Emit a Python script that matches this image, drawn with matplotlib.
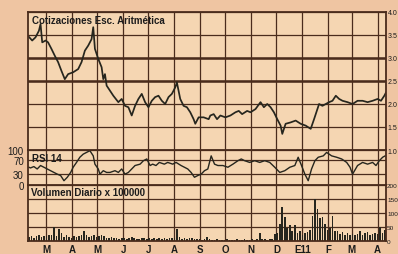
import matplotlib
matplotlib.use('Agg')
import matplotlib.pyplot as plt
import pandas as pd

# --- data ---
price_dates = [
    '2010-02-08', '2010-02-12', '2010-02-16', '2010-02-20', '2010-02-22', '2010-02-24', '2010-02-28',
    '2010-03-03', '2010-03-07', '2010-03-11', '2010-03-15', '2010-03-19', '2010-03-23', '2010-03-27',
    '2010-04-02', '2010-04-08', '2010-04-12', '2010-04-16', '2010-04-20', '2010-04-24', '2010-04-26',
    '2010-04-28', '2010-05-02', '2010-05-06', '2010-05-08', '2010-05-10', '2010-05-12', '2010-05-16',
    '2010-05-20', '2010-05-26', '2010-05-30', '2010-06-03', '2010-06-07', '2010-06-11', '2010-06-15',
    '2010-06-19', '2010-06-23', '2010-06-27', '2010-07-01', '2010-07-05', '2010-07-09', '2010-07-13',
    '2010-07-17', '2010-07-21', '2010-07-25', '2010-07-29', '2010-08-02', '2010-08-04', '2010-08-08',
    '2010-08-12', '2010-08-16', '2010-08-20', '2010-08-24', '2010-08-26', '2010-08-30', '2010-09-05',
    '2010-09-11', '2010-09-13', '2010-09-17', '2010-09-21', '2010-09-25', '2010-10-01', '2010-10-07',
    '2010-10-13', '2010-10-17', '2010-10-21', '2010-10-27', '2010-10-31', '2010-11-06', '2010-11-12',
    '2010-11-16', '2010-11-20', '2010-11-24', '2010-11-28', '2010-12-02', '2010-12-06', '2010-12-08',
    '2010-12-12', '2010-12-18', '2010-12-24', '2010-12-30', '2011-01-05', '2011-01-11', '2011-01-15',
    '2011-01-19', '2011-01-21', '2011-01-25', '2011-01-29', '2011-02-02', '2011-02-06', '2011-02-10',
    '2011-02-14', '2011-02-18', '2011-02-24', '2011-03-02', '2011-03-08', '2011-03-14', '2011-03-20',
    '2011-03-26', '2011-04-01', '2011-04-05', '2011-04-09', '2011-04-11',
]
price = [
    3.46, 3.38, 3.45, 3.59, 3.74, 3.34, 3.38,
    3.34, 3.20, 3.05, 2.91, 2.72, 2.54, 2.65,
    2.69, 2.76, 2.91, 3.16, 3.27, 3.41, 3.67,
    3.20, 2.98, 2.80, 2.54, 2.65, 2.40, 2.29,
    2.18, 2.04, 2.11, 1.96, 1.93, 1.75, 1.96,
    2.11, 2.22, 2.04, 1.93, 2.07, 2.15, 2.18,
    2.07, 2.00, 2.15, 2.22, 2.36, 2.47, 2.11,
    1.96, 1.93, 1.82, 1.67, 1.57, 1.71, 1.71,
    1.67, 1.75, 1.78, 1.67, 1.75, 1.71, 1.75,
    1.82, 1.85, 1.78, 1.85, 1.82, 1.89, 2.04,
    1.93, 2.00, 1.93, 1.82, 1.67, 1.53, 1.35,
    1.57, 1.60, 1.64, 1.57, 1.53, 1.46, 1.67,
    1.89, 2.00, 1.96, 2.00, 2.04, 2.07, 2.18,
    2.11, 2.07, 2.04, 2.00, 2.07, 2.07, 2.04,
    2.07, 2.11, 2.07, 2.18, 2.25,
]

rsi_dates = [
    '2010-02-08', '2010-02-10', '2010-02-14', '2010-02-18', '2010-02-22', '2010-02-26', '2010-03-02',
    '2010-03-06', '2010-03-10', '2010-03-14', '2010-03-18', '2010-03-22', '2010-03-26', '2010-03-30',
    '2010-04-02', '2010-04-06', '2010-04-10', '2010-04-14', '2010-04-18', '2010-04-22', '2010-04-26',
    '2010-04-28', '2010-05-02', '2010-05-04', '2010-05-08', '2010-05-12', '2010-05-16', '2010-05-22',
    '2010-05-26', '2010-05-30', '2010-06-03', '2010-06-07', '2010-06-11', '2010-06-15', '2010-06-21',
    '2010-06-25', '2010-06-29', '2010-07-03', '2010-07-06', '2010-07-10', '2010-07-14', '2010-07-20',
    '2010-07-24', '2010-07-30', '2010-08-03', '2010-08-09', '2010-08-13', '2010-08-17', '2010-08-21',
    '2010-08-25', '2010-08-29', '2010-09-02', '2010-09-06', '2010-09-10', '2010-09-14', '2010-09-18',
    '2010-09-22', '2010-09-28', '2010-10-04', '2010-10-10', '2010-10-16', '2010-10-20', '2010-10-24',
    '2010-10-30', '2010-11-05', '2010-11-11', '2010-11-17', '2010-11-23', '2010-11-29', '2010-12-05',
    '2010-12-11', '2010-12-17', '2010-12-23', '2010-12-27', '2010-12-31', '2011-01-04', '2011-01-08',
    '2011-01-12', '2011-01-16', '2011-01-20', '2011-01-26', '2011-01-30', '2011-02-05', '2011-02-11',
    '2011-02-17', '2011-02-23', '2011-02-27', '2011-03-02', '2011-03-08', '2011-03-14', '2011-03-20',
    '2011-03-26', '2011-03-30', '2011-04-03', '2011-04-07', '2011-04-10',
]
rsi = [
    50, 48, 52, 45, 55, 50, 45,
    40, 35, 30, 26, 11, 21, 35,
    50, 64, 79, 88, 93, 98, 83,
    59, 45, 30, 40, 35, 35, 40,
    35, 45, 30, 35, 45, 55, 59,
    69, 74, 55, 59, 55, 64, 59,
    64, 59, 64, 55, 50, 45, 35,
    21, 26, 30, 40, 45, 83, 59,
    55, 55, 50, 59, 69, 74, 69,
    64, 69, 64, 69, 64, 50, 35,
    40, 50, 55, 79, 55, 30, 11,
    45, 69, 79, 83, 93, 83, 79,
    74, 64, 50, 30, 55, 64, 59,
    64, 55, 69, 79, 83,
]

# daily volume (x 100000), one reading every 3 days from 2010-02-08
vol_start = '2010-02-08'
volume = [
    14, 18, 12, 16, 20, 15, 18,
    16, 20, 22, 48, 18, 42, 30, 15, 20, 14,
    12, 16, 14, 18, 22, 36, 20, 15, 18, 22,
    14, 16, 20, 18, 12, 10, 14, 9, 11, 8,
    10, 12, 8, 9, 14, 10, 8, 7, 9, 10,
    8, 10, 7, 9, 8, 11, 7, 9, 8, 10,
    9, 12, 42, 14, 8, 10, 7, 9, 12, 8,
    7, 6, 5, 7, 14, 6, 5, 4, 6, 5,
    5, 4, 6, 5, 4, 5, 6, 4, 5, 6,
    5, 4, 6, 5, 7, 30, 6, 8, 5, 6,
    8, 24, 30, 60, 120, 86, 45, 55, 35, 55, 28, 37,
    22, 30, 32, 40, 90, 150, 114, 82, 86, 61, 40,
    45, 90, 35, 37, 25, 32, 22, 28, 20,
    25, 22, 24, 35, 20, 28, 32, 22, 26, 30,
    24, 50, 30, 40,
]

month_labels = ['M', 'A', 'M', 'J', 'J', 'A', 'S', 'O', 'N', 'D', 'E11', 'F', 'M', 'A']
price_ticks = [4.0, 3.5, 3.0, 2.5, 2.0, 1.5, 1.0]
rsi_ticks = [100, 70, 30, 0]
vol_ticks = [200, 150, 100, 50, 0]

# --- style ---
bg_out = '#efc5a2'
bg_in = '#f5d6b2'
grid_c = '#4a2c1c'
ink = '#26261e'
txt = '#1c1c1c'
plt.rcParams['font.family'] = ['Liberation Sans', 'DejaVu Sans']

price_x = pd.to_datetime(price_dates)
rsi_x = pd.to_datetime(rsi_dates)
vol_x = pd.date_range(vol_start, periods=len(volume), freq='3D')
month_starts = pd.date_range('2010-03-01', '2011-04-01', freq='MS')
x0, x1 = pd.Timestamp('2010-02-07'), pd.Timestamp('2011-04-11')

fig = plt.figure(figsize=(3.98, 2.55), dpi=100, facecolor=bg_out)
L, W = 28 / 398, 358 / 398
ax_p = fig.add_axes([L, 104 / 255, W, 138 / 255])
ax_r = fig.add_axes([L, 69.5 / 255, W, 34.5 / 255])
ax_v = fig.add_axes([L, 13 / 255, W, 56.5 / 255])

for ax in (ax_p, ax_r, ax_v):
    ax.set_facecolor(bg_in)
    ax.set_xlim(x0, x1)
    ax.set_xticks(month_starts)
    ax.xaxis.grid(True, color=grid_c, lw=0.9)
    ax.yaxis.grid(True, color=grid_c, lw=0.9)
    ax.set_axisbelow(True)
    for s in ax.spines.values():
        s.set_color(grid_c)
        s.set_linewidth(1.3)
    ax.tick_params(length=0, labelsize=7, colors=txt, pad=3)

# price panel
ax_p.plot(price_x, price, color=ink, lw=1.25)
ax_p.set_ylim(1.0, 4.0)
ax_p.set_yticks(price_ticks)
ax_p.set_yticklabels(['%.1f' % t for t in price_ticks])
ax_p.yaxis.tick_right()
ax_p.tick_params(axis='y', labelsize=5, pad=1)
ax_p.axhline(3.0, color=grid_c, lw=1.8, zorder=0.5)
ax_p.axhline(2.5, color=grid_c, lw=1.8, zorder=0.5)
ax_p.set_xticklabels([])
ax_p.spines['bottom'].set_visible(False)
ax_p.text(0.01, 0.975, 'Cotizaciones Esc. Aritmética', transform=ax_p.transAxes,
          fontsize=7, fontweight='bold', color=txt, va='top', ha='left')

# RSI panel
ax_r.plot(rsi_x, rsi, color=ink, lw=1.0)
ax_r.set_ylim(0, 100)
ax_r.set_yticks(rsi_ticks)
ax_r.set_yticklabels([str(t) for t in rsi_ticks])
ax_r.set_xticklabels([])
ax_r.text(0.012, 0.9, 'RSI 14', transform=ax_r.transAxes,
          fontsize=7, fontweight='bold', color=txt, va='top', ha='left')

# volume panel
ax_v.bar(vol_x, volume, width=2.0, color=ink, linewidth=0)
ax_v.set_ylim(0, 200)
ax_v.set_yticks(vol_ticks)
ax_v.set_yticklabels([str(t) for t in vol_ticks])
ax_v.yaxis.tick_right()
ax_v.tick_params(axis='y', labelsize=4.6, pad=0.8)
ax_v.spines['top'].set_visible(False)
ax_v.set_xticklabels(month_labels, fontsize=7, fontweight='bold')
ax_v.tick_params(axis='x', pad=2)
ax_v.text(0.008, 0.95, 'Volumen Diario x 100000', transform=ax_v.transAxes,
          fontsize=7, fontweight='bold', color=txt, va='top', ha='left')

fig.savefig('out.png', dpi=100, facecolor=fig.get_facecolor())
